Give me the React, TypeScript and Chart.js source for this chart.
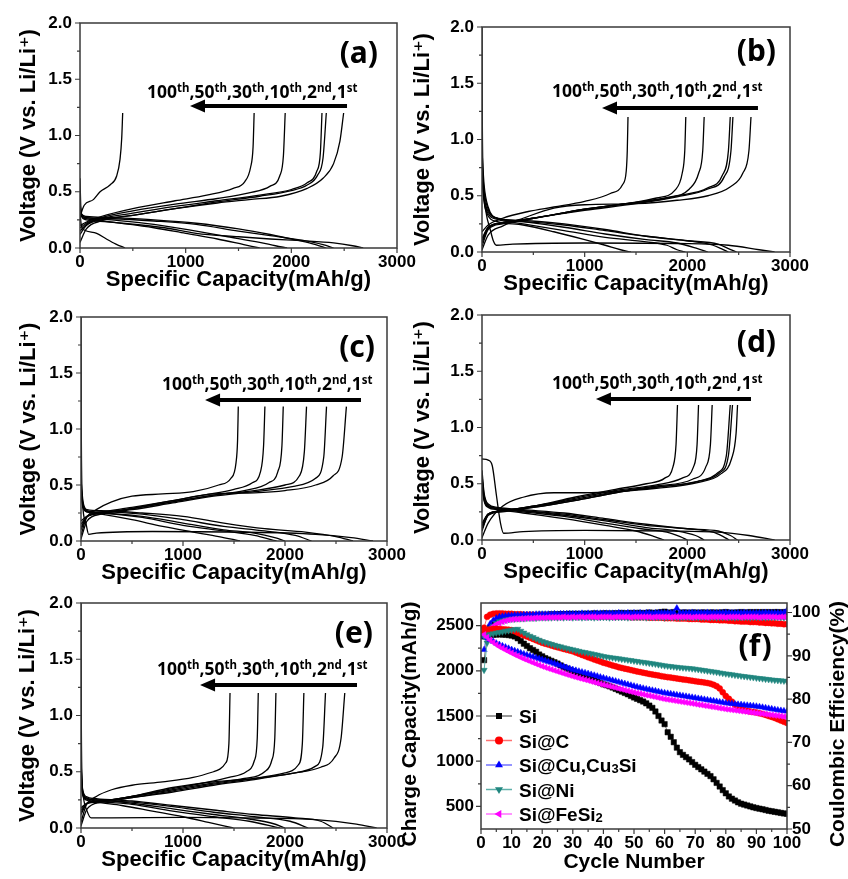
import React, { useEffect, useRef } from "react";
import { Chart, registerables } from "chart.js";
Chart.register(...registerables);

const AXIS_FONT = '"Liberation Sans", Arial, "DejaVu Sans", sans-serif';
const NOTE_FONT = '"Noto Sans", "Open Sans", "DejaVu Sans", sans-serif';
const FRAME = "#3a3a3a";

type Curve = [number, number][];

// ---------- tick values ----------
const VOLT_TICKS = [0, 0.5, 1.0, 1.5, 2.0];
const SPEC_TICKS = [0, 1000, 2000, 3000];
const CYCLE_TICKS = [0, 10, 20, 30, 40, 50, 60, 70, 80, 90, 100];
const CAP_TICKS = [500, 1000, 1500, 2000, 2500];
const CE_TICKS = [50, 60, 70, 80, 90, 100];
const NOTE_PARTS: [string, string][] = [["100", "th"], [",50", "th"], [",30", "th"], [",10", "th"], [",2", "nd"], [",1", "st"]];

// ---------- panel (a) Si ----------
const A_CHARGE: Curve[] = [
  [[0, 0.05], [60, 0.17], [200, 0.24], [500, 0.29], [900, 0.35], [1300, 0.4], [1600, 0.43], [1900, 0.46], [2150, 0.53], [2300, 0.62], [2400, 0.75], [2460, 0.95], [2495, 1.2]],
  [[0, 0.12], [60, 0.2], [200, 0.25], [500, 0.29], [900, 0.35], [1300, 0.41], [1700, 0.46], [2000, 0.51], [2150, 0.56], [2250, 0.65], [2300, 0.8], [2331, 1.2]],
  [[0, 0.15], [60, 0.21], [200, 0.26], [500, 0.31], [900, 0.37], [1300, 0.42], [1700, 0.47], [2000, 0.52], [2150, 0.58], [2240, 0.68], [2275, 0.85], [2290, 1.2]],
  [[0, 0.18], [60, 0.22], [200, 0.27], [500, 0.33], [900, 0.39], [1300, 0.44], [1600, 0.49], [1800, 0.55], [1890, 0.64], [1925, 0.82], [1942, 1.2]],
  [[0, 0.2], [60, 0.23], [200, 0.28], [500, 0.35], [900, 0.42], [1200, 0.47], [1450, 0.53], [1560, 0.59], [1615, 0.72], [1638, 0.9], [1648, 1.2]],
  [[0, 0.28], [40, 0.38], [126, 0.43], [190, 0.5], [284, 0.56], [347, 0.64], [379, 0.79], [395, 0.98], [404, 1.2]],
];
const A_DISCHARGE: Curve[] = [
  [[0, 0.62], [8, 0.36], [30, 0.26], [150, 0.24], [400, 0.22], [800, 0.18], [1100, 0.13], [1500, 0.1], [1800, 0.08], [2100, 0.065], [2400, 0.045], [2580, 0.02], [2680, 0]],
  [[0, 0.4], [15, 0.3], [60, 0.27], [300, 0.26], [700, 0.24], [1100, 0.21], [1500, 0.15], [1800, 0.11], [2100, 0.07], [2300, 0.03], [2400, 0]],
  [[0, 0.38], [15, 0.3], [60, 0.28], [300, 0.27], [700, 0.25], [1100, 0.22], [1500, 0.17], [1800, 0.12], [2050, 0.07], [2230, 0.03], [2330, 0]],
  [[0, 0.36], [15, 0.29], [60, 0.27], [300, 0.25], [700, 0.21], [1100, 0.15], [1400, 0.1], [1700, 0.05], [1850, 0.02], [1960, 0]],
  [[0, 0.35], [15, 0.28], [60, 0.26], [300, 0.23], [700, 0.18], [1000, 0.13], [1300, 0.08], [1550, 0.03], [1700, 0]],
  [[0, 0.33], [12, 0.2], [40, 0.16], [158, 0.13], [250, 0.08], [340, 0.035], [426, 0]],
];

// ---------- panel (b) ----------
const B_CHARGE: Curve[] = [
  [[0, 0.02], [60, 0.15], [200, 0.23], [400, 0.3], [700, 0.39], [1000, 0.42], [1500, 0.43], [1900, 0.46], [2200, 0.5], [2420, 0.58], [2540, 0.7], [2600, 0.9], [2620, 1.2]],
  [[0, 0.05], [60, 0.2], [200, 0.25], [500, 0.3], [1000, 0.37], [1500, 0.43], [1900, 0.49], [2200, 0.56], [2360, 0.67], [2425, 0.9], [2444, 1.2]],
  [[0, 0.08], [60, 0.21], [200, 0.26], [500, 0.3], [1000, 0.38], [1500, 0.44], [1900, 0.5], [2200, 0.57], [2340, 0.68], [2400, 0.9], [2418, 1.2]],
  [[0, 0.1], [60, 0.22], [200, 0.26], [500, 0.3], [1000, 0.38], [1400, 0.43], [1800, 0.48], [2020, 0.56], [2110, 0.7], [2150, 0.9], [2164, 1.2]],
  [[0, 0.12], [60, 0.22], [200, 0.26], [500, 0.3], [1000, 0.38], [1400, 0.43], [1700, 0.48], [1880, 0.55], [1950, 0.7], [1975, 0.9], [1985, 1.2]],
  [[0, 0.18], [60, 0.24], [200, 0.3], [450, 0.36], [700, 0.4], [1000, 0.45], [1250, 0.52], [1370, 0.6], [1405, 0.72], [1415, 0.9], [1422, 1.2]],
];
const B_DISCHARGE: Curve[] = [
  [[0, 2.0], [3, 1.2], [10, 0.7], [40, 0.35], [80, 0.2], [110, 0.1], [140, 0.06], [300, 0.07], [1000, 0.08], [2000, 0.075], [2400, 0.06], [2700, 0.02], [2850, 0]],
  [[0, 0.9], [20, 0.6], [60, 0.4], [150, 0.3], [400, 0.27], [800, 0.24], [1200, 0.19], [1600, 0.14], [2000, 0.1], [2300, 0.07], [2400, 0.03], [2480, 0]],
  [[0, 0.8], [20, 0.55], [60, 0.38], [150, 0.3], [400, 0.28], [800, 0.25], [1200, 0.2], [1600, 0.14], [2000, 0.1], [2250, 0.06], [2330, 0.03], [2400, 0]],
  [[0, 0.75], [20, 0.5], [60, 0.36], [150, 0.3], [400, 0.27], [800, 0.22], [1200, 0.16], [1600, 0.11], [1900, 0.08], [2100, 0.03], [2200, 0]],
  [[0, 0.7], [20, 0.48], [60, 0.34], [150, 0.29], [400, 0.25], [800, 0.19], [1200, 0.13], [1600, 0.09], [1800, 0.06], [1900, 0.02], [1980, 0]],
  [[0, 0.65], [20, 0.45], [60, 0.32], [150, 0.27], [400, 0.24], [700, 0.18], [1000, 0.11], [1200, 0.06], [1350, 0.02], [1450, 0]],
];

// ---------- panel (c) ----------
const C_CHARGE: Curve[] = [
  [[0, 0.02], [60, 0.18], [200, 0.24], [500, 0.29], [900, 0.36], [1300, 0.42], [1700, 0.43], [2000, 0.45], [2300, 0.5], [2470, 0.58], [2560, 0.75], [2602, 1.2]],
  [[0, 0.18], [60, 0.22], [200, 0.25], [500, 0.28], [900, 0.34], [1300, 0.4], [1700, 0.44], [2100, 0.49], [2300, 0.56], [2380, 0.75], [2407, 1.2]],
  [[0, 0.15], [60, 0.22], [200, 0.25], [500, 0.29], [900, 0.35], [1300, 0.41], [1700, 0.45], [2000, 0.5], [2140, 0.58], [2190, 0.8], [2211, 1.2]],
  [[0, 0.12], [60, 0.22], [200, 0.25], [500, 0.29], [900, 0.35], [1300, 0.41], [1600, 0.45], [1840, 0.52], [1930, 0.62], [1970, 0.85], [1983, 1.2]],
  [[0, 0.1], [60, 0.22], [200, 0.26], [500, 0.3], [900, 0.36], [1200, 0.41], [1500, 0.46], [1680, 0.52], [1760, 0.62], [1790, 0.85], [1803, 1.2]],
  [[0, 0.05], [50, 0.2], [150, 0.28], [300, 0.35], [500, 0.4], [800, 0.42], [1100, 0.44], [1350, 0.5], [1470, 0.56], [1520, 0.7], [1535, 0.9], [1542, 1.2]],
];
const C_DISCHARGE: Curve[] = [
  [[0, 2.0], [3, 1.0], [8, 0.5], [20, 0.28], [50, 0.15], [75, 0.06], [150, 0.07], [700, 0.085], [1500, 0.08], [2300, 0.06], [2650, 0.03], [2863, 0]],
  [[0, 0.55], [20, 0.35], [60, 0.28], [200, 0.27], [600, 0.25], [1000, 0.22], [1400, 0.16], [1800, 0.11], [2200, 0.08], [2500, 0.04], [2667, 0]],
  [[0, 0.5], [20, 0.33], [60, 0.27], [200, 0.26], [600, 0.24], [1000, 0.19], [1400, 0.13], [1800, 0.09], [2100, 0.05], [2260, 0]],
  [[0, 0.48], [20, 0.32], [60, 0.27], [200, 0.25], [600, 0.22], [1000, 0.16], [1400, 0.1], [1700, 0.07], [1900, 0.03], [2000, 0]],
  [[0, 0.46], [20, 0.31], [60, 0.26], [200, 0.25], [600, 0.21], [1000, 0.14], [1400, 0.09], [1700, 0.05], [1917, 0]],
  [[0, 0.44], [20, 0.3], [60, 0.26], [200, 0.24], [500, 0.19], [800, 0.13], [1100, 0.08], [1350, 0.04], [1559, 0]],
];

// ---------- panel (d) ----------
const D_CHARGE: Curve[] = [
  [[0, 0.02], [60, 0.15], [200, 0.3], [400, 0.38], [700, 0.42], [1000, 0.42], [1300, 0.43], [1700, 0.46], [2100, 0.51], [2330, 0.59], [2430, 0.72], [2475, 0.95], [2489, 1.2]],
  [[0, 0.08], [60, 0.22], [200, 0.25], [500, 0.29], [900, 0.35], [1300, 0.42], [1700, 0.47], [2100, 0.52], [2320, 0.6], [2400, 0.75], [2440, 1.2]],
  [[0, 0.1], [60, 0.22], [200, 0.26], [500, 0.29], [900, 0.35], [1300, 0.42], [1700, 0.47], [2100, 0.52], [2300, 0.6], [2380, 0.75], [2418, 1.2]],
  [[0, 0.12], [60, 0.23], [200, 0.26], [500, 0.3], [900, 0.36], [1300, 0.43], [1700, 0.48], [2050, 0.54], [2180, 0.65], [2225, 0.85], [2242, 1.2]],
  [[0, 0.13], [60, 0.23], [200, 0.26], [500, 0.3], [900, 0.37], [1300, 0.44], [1700, 0.49], [1950, 0.55], [2060, 0.65], [2095, 0.85], [2109, 1.2]],
  [[0, 0.15], [60, 0.23], [200, 0.26], [500, 0.3], [900, 0.38], [1300, 0.45], [1600, 0.5], [1780, 0.55], [1860, 0.65], [1890, 0.85], [1904, 1.2]],
];
const D_DISCHARGE: Curve[] = [
  [[0, 0.72], [60, 0.71], [100, 0.66], [140, 0.4], [180, 0.15], [210, 0.06], [400, 0.075], [1000, 0.085], [1800, 0.08], [2300, 0.07], [2600, 0.04], [2850, 0]],
  [[0, 0.62], [20, 0.42], [60, 0.32], [150, 0.29], [400, 0.27], [800, 0.24], [1200, 0.19], [1600, 0.14], [2000, 0.1], [2300, 0.08], [2420, 0.04], [2489, 0]],
  [[0, 0.58], [20, 0.4], [60, 0.31], [150, 0.28], [400, 0.26], [800, 0.23], [1200, 0.18], [1600, 0.13], [2000, 0.1], [2250, 0.07], [2350, 0.03], [2408, 0]],
  [[0, 0.55], [20, 0.38], [60, 0.3], [150, 0.28], [400, 0.26], [800, 0.22], [1200, 0.17], [1600, 0.11], [1900, 0.08], [2080, 0.04], [2164, 0]],
  [[0, 0.52], [20, 0.36], [60, 0.3], [150, 0.28], [400, 0.25], [800, 0.21], [1200, 0.15], [1550, 0.1], [1800, 0.07], [1930, 0.03], [2001, 0]],
  [[0, 0.5], [20, 0.35], [60, 0.29], [150, 0.27], [400, 0.24], [800, 0.19], [1200, 0.13], [1500, 0.08], [1680, 0.03], [1773, 0]],
];

// ---------- panel (e) ----------
const E_CHARGE: Curve[] = [
  [[0, 0.02], [60, 0.17], [200, 0.23], [500, 0.28], [900, 0.36], [1300, 0.41], [1700, 0.44], [2100, 0.49], [2350, 0.54], [2480, 0.62], [2550, 0.8], [2586, 1.2]],
  [[0, 0.18], [60, 0.22], [200, 0.23], [500, 0.27], [900, 0.32], [1300, 0.38], [1700, 0.43], [2100, 0.49], [2300, 0.55], [2370, 0.72], [2397, 1.2]],
  [[0, 0.16], [60, 0.22], [200, 0.24], [500, 0.27], [900, 0.33], [1300, 0.39], [1700, 0.44], [2000, 0.49], [2130, 0.56], [2170, 0.75], [2185, 1.2]],
  [[0, 0.14], [60, 0.22], [200, 0.24], [500, 0.28], [900, 0.34], [1300, 0.4], [1600, 0.44], [1800, 0.5], [1870, 0.6], [1900, 0.8], [1911, 1.2]],
  [[0, 0.12], [60, 0.22], [200, 0.24], [500, 0.28], [900, 0.35], [1200, 0.4], [1450, 0.45], [1620, 0.5], [1700, 0.6], [1728, 0.8], [1738, 1.2]],
  [[0, 0.05], [50, 0.2], [150, 0.28], [300, 0.34], [500, 0.38], [800, 0.41], [1100, 0.45], [1300, 0.5], [1420, 0.58], [1450, 0.75], [1461, 1.2]],
];
const E_DISCHARGE: Curve[] = [
  [[0, 2.0], [3, 1.0], [8, 0.5], [20, 0.3], [60, 0.15], [100, 0.09], [300, 0.09], [1000, 0.095], [1600, 0.09], [2300, 0.075], [2700, 0.035], [2898, 0]],
  [[0, 0.6], [15, 0.35], [50, 0.28], [150, 0.26], [500, 0.24], [900, 0.2], [1300, 0.16], [1700, 0.12], [2100, 0.09], [2350, 0.06], [2472, 0]],
  [[0, 0.55], [15, 0.33], [50, 0.27], [150, 0.25], [500, 0.23], [900, 0.19], [1300, 0.14], [1700, 0.1], [2050, 0.06], [2227, 0]],
  [[0, 0.5], [15, 0.32], [50, 0.26], [150, 0.25], [500, 0.22], [900, 0.17], [1300, 0.12], [1650, 0.08], [1880, 0.04], [1999, 0]],
  [[0, 0.48], [15, 0.31], [50, 0.26], [150, 0.24], [500, 0.21], [900, 0.15], [1300, 0.1], [1650, 0.06], [1950, 0]],
  [[0, 0.45], [15, 0.3], [50, 0.25], [150, 0.23], [400, 0.2], [700, 0.15], [1000, 0.1], [1250, 0.05], [1493, 0]],
];

// ---------- panel (f) cycling ----------
const SERIES = ["Si", "Si@C", "Si@Cu,Cu₃Si", "Si@Ni", "Si@FeSi₂"];
const CYCLES = Array.from({ length: 100 }, (_, i) => i + 1);

const CAP_SI = [
  2380, 2390, 2395, 2400, 2400, 2405, 2400, 2400, 2395, 2390,
  2380, 2360, 2330, 2300, 2275, 2250, 2230, 2210, 2180, 2160,
  2140, 2125, 2110, 2095, 2080, 2060, 2040, 2025, 2010, 1995,
  1980, 1965, 1950, 1940, 1925, 1910, 1895, 1880, 1865, 1850,
  1840, 1828, 1815, 1800, 1785, 1770, 1755, 1740, 1722, 1705,
  1690, 1675, 1660, 1640, 1615, 1590, 1550, 1500, 1450, 1410,
  1320, 1270, 1210, 1150, 1100, 1070, 1045, 1020, 990, 960,
  935, 910, 885, 860, 835, 800, 760, 720, 680, 645,
  610, 585, 565, 545, 530, 520, 510, 500, 490, 482,
  475, 468, 460, 452, 446, 440, 434, 428, 422, 418,
];
const CAP_C = [
  2430, 2450, 2458, 2462, 2465, 2463, 2460, 2458, 2455, 2450,
  2438, 2422, 2408, 2394, 2380, 2366, 2352, 2338, 2324, 2310,
  2300, 2290, 2280, 2270, 2260, 2251, 2242, 2233, 2224, 2215,
  2202, 2189, 2176, 2163, 2150, 2138, 2126, 2114, 2102, 2090,
  2080, 2070, 2060, 2050, 2040, 2032, 2024, 2016, 2008, 2000,
  1993, 1986, 1979, 1972, 1965, 1959, 1953, 1947, 1941, 1935,
  1930, 1925, 1920, 1915, 1910, 1905, 1900, 1895, 1890, 1885,
  1880, 1875, 1870, 1865, 1858, 1845, 1830, 1805, 1762, 1720,
  1690, 1658, 1625, 1600, 1582, 1566, 1558, 1550, 1545, 1540,
  1530, 1522, 1512, 1500, 1490, 1478, 1464, 1450, 1436, 1422,
];
const CAP_CU = [
  2380, 2365, 2345, 2325, 2305, 2290, 2275, 2262, 2248, 2234,
  2222, 2210, 2198, 2186, 2175, 2164, 2154, 2144, 2134, 2124,
  2113, 2102, 2091, 2080, 2069, 2058, 2047, 2036, 2025, 2013,
  2004, 1995, 1986, 1977, 1968, 1959, 1950, 1940, 1930, 1921,
  1912, 1903, 1894, 1885, 1876, 1867, 1858, 1849, 1840, 1830,
  1822, 1814, 1806, 1798, 1791, 1784, 1777, 1770, 1762, 1755,
  1750, 1745, 1739, 1733, 1728, 1722, 1717, 1711, 1706, 1700,
  1694, 1689, 1683, 1678, 1672, 1667, 1661, 1655, 1650, 1644,
  1640, 1636, 1632, 1628, 1625, 1621, 1618, 1614, 1611, 1607,
  1602, 1596, 1590, 1584, 1578, 1572, 1566, 1561, 1556, 1552,
];
const CAP_NI = [
  2380, 2395, 2405, 2412, 2420, 2425, 2432, 2440, 2445, 2452,
  2458, 2462, 2440, 2420, 2402, 2385, 2370, 2355, 2340, 2326,
  2315, 2305, 2295, 2285, 2276, 2267, 2258, 2250, 2242, 2234,
  2226, 2218, 2211, 2204, 2197, 2190, 2183, 2176, 2168, 2160,
  2155, 2150, 2145, 2140, 2135, 2130, 2125, 2120, 2115, 2110,
  2105, 2100, 2095, 2090, 2085, 2080, 2075, 2069, 2063, 2057,
  2053, 2049, 2045, 2041, 2037, 2034, 2031, 2028, 2024, 2020,
  2015, 2010, 2005, 2000, 1995, 1990, 1985, 1979, 1973, 1968,
  1963, 1958, 1953, 1948, 1943, 1939, 1935, 1930, 1926, 1921,
  1917, 1913, 1909, 1905, 1901, 1897, 1894, 1891, 1888, 1884,
];
const CAP_FE = [
  2400, 2370, 2340, 2315, 2290, 2268, 2250, 2232, 2214, 2197,
  2180, 2164, 2148, 2133, 2119, 2105, 2091, 2077, 2063, 2050,
  2038, 2026, 2015, 2004, 1993, 1982, 1971, 1960, 1950, 1939,
  1930, 1920, 1911, 1902, 1893, 1883, 1874, 1865, 1856, 1847,
  1838, 1830, 1821, 1813, 1804, 1796, 1787, 1779, 1770, 1762,
  1754, 1747, 1740, 1732, 1725, 1718, 1711, 1703, 1696, 1688,
  1683, 1677, 1672, 1666, 1661, 1655, 1650, 1644, 1639, 1633,
  1627, 1622, 1616, 1611, 1605, 1600, 1594, 1588, 1583, 1577,
  1573, 1568, 1564, 1559, 1555, 1551, 1546, 1542, 1537, 1533,
  1529, 1525, 1520, 1516, 1512, 1507, 1503, 1499, 1494, 1490,
];

const CE_SI = [
  89.0, 94.6, 96.5, 97.4, 97.9, 98.3, 98.6, 98.8, 98.9, 99.0,
  99.1, 99.2, 99.2, 99.3, 99.3, 99.4, 99.4, 99.4, 99.5, 99.5,
  99.5, 99.5, 99.6, 99.5, 99.6, 99.6, 99.6, 99.6, 99.7, 99.6,
  99.7, 99.6, 99.7, 99.7, 99.7, 99.7, 99.8, 99.7, 99.7, 99.8,
  99.8, 99.7, 99.8, 99.8, 99.8, 99.9, 99.8, 99.8, 99.9, 99.8,
  99.9, 99.9, 99.8, 99.9, 100.0, 99.9, 99.9, 100.0, 100.1, 100.2,
  100.0, 99.9, 100.1, 100.0, 99.9, 100.0, 100.0, 99.9, 100.0, 100.0,
  99.9, 100.0, 100.0, 99.9, 100.0, 100.0, 99.9, 100.0, 100.0, 100.1,
  100.0, 99.9, 100.0, 100.0, 100.1, 100.0, 100.0, 100.1, 100.0, 100.1,
  100.0, 100.1, 100.0, 100.1, 100.0, 100.1, 100.1, 100.0, 100.1, 100.1,
];
const CE_C = [
  96.5, 99.0, 99.5, 99.7, 99.8, 99.8, 99.8, 99.7, 99.7, 99.7,
  99.6, 99.6, 99.6, 99.5, 99.5, 99.5, 99.5, 99.4, 99.4, 99.4,
  99.4, 99.4, 99.3, 99.3, 99.3, 99.3, 99.3, 99.3, 99.2, 99.2,
  99.2, 99.2, 99.2, 99.2, 99.2, 99.1, 99.1, 99.1, 99.1, 99.1,
  99.1, 99.1, 99.0, 99.0, 99.0, 99.0, 99.0, 99.0, 98.9, 98.9,
  98.9, 98.9, 98.9, 98.9, 98.8, 98.8, 98.8, 98.8, 98.8, 98.7,
  98.7, 98.7, 98.7, 98.6, 98.6, 98.6, 98.6, 98.5, 98.5, 98.5,
  98.5, 98.4, 98.4, 98.4, 98.3, 98.3, 98.3, 98.2, 98.2, 98.2,
  98.1, 98.1, 98.0, 98.0, 97.9, 97.9, 97.9, 97.8, 97.8, 97.8,
  97.7, 97.7, 97.6, 97.6, 97.5, 97.5, 97.4, 97.4, 97.3, 97.3,
];
const CE_CU = [
  91.4, 95.8, 97.4, 98.2, 98.7, 99.0, 99.1, 99.2, 99.3, 99.3,
  99.4, 99.4, 99.4, 99.5, 99.5, 99.5, 99.5, 99.6, 99.6, 99.6,
  99.6, 99.6, 99.6, 99.7, 99.6, 99.7, 99.7, 99.7, 99.7, 99.7,
  99.7, 99.7, 99.8, 99.7, 99.8, 99.7, 99.8, 99.8, 99.8, 99.8,
  99.8, 99.8, 99.8, 99.8, 99.9, 99.8, 99.8, 99.9, 99.8, 99.9,
  99.8, 99.9, 99.8, 99.9, 99.9, 99.8, 99.9, 99.9, 99.9, 99.9,
  99.9, 99.9, 100.0, 101.0, 99.9, 99.9, 99.9, 99.9, 100.0, 99.9,
  99.9, 99.9, 99.9, 100.0, 99.9, 99.9, 99.9, 99.9, 99.9, 100.0,
  99.9, 99.9, 99.9, 99.9, 99.9, 100.0, 99.9, 99.9, 99.9, 99.9,
  99.9, 99.9, 100.0, 99.9, 99.9, 99.9, 99.9, 99.9, 100.0, 100.5,
];
const CE_NI = [
  86.7, 93.0, 95.5, 96.8, 97.5, 97.9, 98.1, 98.3, 98.4, 98.5,
  98.5, 98.6, 98.6, 98.6, 98.7, 98.7, 98.7, 98.7, 98.8, 98.8,
  98.8, 98.8, 98.8, 98.9, 98.8, 98.9, 98.8, 98.9, 98.9, 98.8,
  98.9, 98.9, 98.8, 98.9, 98.9, 98.9, 98.8, 98.9, 98.9, 98.9,
  98.9, 98.8, 98.9, 98.9, 98.9, 98.9, 98.9, 98.8, 98.9, 98.9,
  98.9, 98.9, 98.9, 98.8, 98.9, 98.9, 98.9, 98.9, 98.9, 98.8,
  98.9, 98.9, 98.9, 98.9, 98.8, 98.9, 98.9, 98.9, 98.9, 98.9,
  98.8, 98.9, 98.9, 98.9, 98.9, 98.9, 98.8, 98.9, 98.9, 98.9,
  98.9, 98.9, 98.8, 98.9, 98.9, 98.9, 98.9, 98.8, 98.9, 98.9,
  98.9, 98.9, 98.8, 98.9, 98.9, 98.9, 98.9, 98.9, 98.8, 98.9,
];
const CE_FE = [
  94.8, 95.4, 96.2, 96.8, 97.3, 97.6, 97.9, 98.1, 98.3, 98.4,
  98.5, 98.5, 98.6, 98.6, 98.7, 98.7, 98.7, 98.8, 98.8, 98.8,
  98.8, 98.9, 98.9, 98.9, 98.9, 98.9, 99.0, 98.9, 98.9, 99.0,
  98.9, 99.0, 99.0, 98.9, 99.0, 99.0, 99.0, 98.9, 99.0, 99.0,
  99.0, 99.0, 98.9, 99.0, 99.0, 99.0, 99.0, 99.0, 98.9, 99.0,
  99.0, 99.0, 99.0, 99.0, 99.0, 98.9, 99.0, 99.0, 99.0, 99.0,
  99.0, 98.9, 99.0, 99.0, 99.0, 99.0, 99.0, 99.0, 98.9, 99.0,
  99.0, 99.0, 99.0, 98.9, 99.0, 99.0, 99.0, 99.0, 99.0, 98.9,
  99.0, 99.0, 99.0, 99.0, 98.9, 99.0, 99.0, 99.0, 99.0, 99.0,
  98.9, 99.0, 99.0, 99.0, 99.0, 99.0, 98.9, 99.0, 99.0, 99.0,
];

const CAPS = [CAP_SI, CAP_C, CAP_CU, CAP_NI, CAP_FE];
const CES = [CE_SI, CE_C, CE_CU, CE_NI, CE_FE];
const COLORS = ["#000000", "#ff0000", "#0000ff", "#20867f", "#ff00ff"];
const LINE_COLORS = ["#777777", "#ff7070", "#7070ff", "#5fb0aa", "#ff70ff"];
const MARKERS = ["square", "circle", "up", "down", "left"];

// ---------- panel layout ----------
const PANELS = [
  { key: "a", charge: A_CHARGE, discharge: A_DISCHARGE, L: 80, T: 23, R: 397, B: 248, yPad: 15.8, tag: "(a)", tagAt: [2820, 1.72], note: { x: 634, y: 1.333, from: 2527, to: 1041, ay: 1.262 } },
  { key: "b", charge: B_CHARGE, discharge: B_DISCHARGE, L: 482, T: 27, R: 790, B: 252, yPad: 7.8, tag: "(b)", tagAt: [2864, 1.773], note: { x: 682, y: 1.378, from: 2688, to: 1169, ay: 1.28 } },
  { key: "c", charge: C_CHARGE, discharge: C_DISCHARGE, L: 81, T: 317, R: 387, B: 541, yPad: 14.8, tag: "(c)", tagAt: [2882, 1.72], note: { x: 794, y: 1.348, from: 2745, to: 1216, ay: 1.259 } },
  { key: "d", charge: D_CHARGE, discharge: D_DISCHARGE, L: 482, T: 315, R: 790, B: 540, yPad: 7.8, tag: "(d)", tagAt: [2864, 1.75], note: { x: 682, y: 1.342, from: 2620, to: 1110, ay: 1.253 } },
  { key: "e", charge: E_CHARGE, discharge: E_DISCHARGE, L: 81, T: 603, R: 387, B: 828, yPad: 13.3, tag: "(e)", tagAt: [2863, 1.716], note: { x: 745, y: 1.36, from: 2706, to: 1167, ay: 1.271 } },
];

function minorsOf(t: number[]) {
  const m: number[] = [];
  for (let i = 0; i < t.length - 1; i++) m.push((t[i] + t[i + 1]) / 2);
  return m;
}

function tickMarks(ctx: any, scale: any, majors: number[], minors: number[], edge: number, dir: number, horizontal: boolean) {
  ctx.beginPath();
  const put = (v: number, len: number) => {
    const p = scale.getPixelForValue(v);
    if (horizontal) { ctx.moveTo(p, edge); ctx.lineTo(p, edge + dir * len); }
    else { ctx.moveTo(edge, p); ctx.lineTo(edge + dir * len, p); }
  };
  majors.forEach((v) => put(v, 5));
  minors.forEach((v) => put(v, 3));
  ctx.stroke();
}

function drawFrame(ctx: any, a: any) {
  ctx.strokeStyle = FRAME;
  ctx.lineWidth = 1.5;
  ctx.strokeRect(a.left, a.top, a.right - a.left, a.bottom - a.top);
}

const tickFont = { family: AXIS_FONT, size: 17, weight: "bold" as const };
const titleFont = { family: AXIS_FONT, size: 22, weight: "bold" as const, lineHeight: 1.2 };

function VoltagePanel({ p }: { p: any }) {
  const ref = useRef<HTMLCanvasElement>(null);
  const lw = 80, rw = 30, tp = 23, bh = 50;
  const w = p.R - p.L + lw + rw;
  const h = p.B - p.T + tp + bh;
  useEffect(() => {
    const curves: Curve[] = [...p.charge, ...p.discharge];
    const deco = {
      id: "voltDeco",
      afterDraw(chart: any) {
        const { ctx, chartArea: a, scales } = chart;
        const xs = scales.x, ys = scales.y;
        ctx.save();
        drawFrame(ctx, a);
        ctx.lineWidth = 1.2;
        tickMarks(ctx, xs, SPEC_TICKS, minorsOf(SPEC_TICKS), a.bottom, 1, true);
        tickMarks(ctx, ys, VOLT_TICKS, minorsOf(VOLT_TICKS), a.left, -1, false);
        // cycle-order note
        ctx.fillStyle = "#000";
        ctx.strokeStyle = "#000";
        ctx.textAlign = "left";
        ctx.textBaseline = "alphabetic";
        let x = xs.getPixelForValue(p.note.x);
        const y = ys.getPixelForValue(p.note.y);
        for (const [main, sup] of NOTE_PARTS) {
          ctx.font = `bold 17.5px ${NOTE_FONT}`;
          ctx.fillText(main, x, y);
          x += ctx.measureText(main).width;
          ctx.font = `bold 11.5px ${NOTE_FONT}`;
          ctx.fillText(sup, x, y - 6);
          x += ctx.measureText(sup).width;
        }
        // arrow
        const x1 = xs.getPixelForValue(p.note.from);
        const x2 = xs.getPixelForValue(p.note.to);
        const ay = ys.getPixelForValue(p.note.ay);
        ctx.lineWidth = 4;
        ctx.beginPath();
        ctx.moveTo(x1, ay);
        ctx.lineTo(x2 + 10, ay);
        ctx.stroke();
        ctx.beginPath();
        ctx.moveTo(x2, ay);
        ctx.lineTo(x2 + 15, ay - 6.5);
        ctx.lineTo(x2 + 15, ay + 6.5);
        ctx.closePath();
        ctx.fill();
        // panel tag
        ctx.font = `bold 30px ${NOTE_FONT}`;
        ctx.textAlign = "right";
        ctx.textBaseline = "middle";
        ctx.fillText(p.tag, xs.getPixelForValue(p.tagAt[0]), ys.getPixelForValue(p.tagAt[1]));
        ctx.restore();
      },
    };
    const chart = new Chart(ref.current as HTMLCanvasElement, {
      type: "line",
      data: {
        datasets: curves.map((c) => ({
          data: c.map(([x, y]) => ({ x, y })),
          borderColor: "#000",
          borderWidth: 1.3,
          pointRadius: 0,
          fill: false,
          cubicInterpolationMode: "monotone" as const,
          borderJoinStyle: "round" as const,
        })),
      },
      options: {
        animation: false,
        responsive: false,
        events: [],
        layout: { padding: { left: 0, top: tp, right: rw, bottom: 0 } },
        plugins: { legend: { display: false }, tooltip: { enabled: false } },
        scales: {
          x: {
            type: "linear",
            min: 0,
            max: 3000,
            afterBuildTicks: (s: any) => { s.ticks = SPEC_TICKS.map((v) => ({ value: v })); },
            afterFit: (s: any) => { s.height = bh; s.paddingLeft = 0; s.paddingRight = 0; },
            grid: { display: false, drawTicks: false },
            border: { display: false },
            ticks: { font: tickFont, color: "#000", padding: 4, maxRotation: 0, autoSkip: false, callback: (v: any) => String(v) },
            title: { display: true, text: "Specific Capacity(mAh/g)", font: titleFont, color: "#000", padding: { top: 0, bottom: 4.8 } },
          },
          y: {
            type: "linear",
            min: 0,
            max: 2,
            afterBuildTicks: (s: any) => { s.ticks = VOLT_TICKS.map((v) => ({ value: v })); },
            afterFit: (s: any) => { s.width = lw; },
            grid: { display: false, drawTicks: false },
            border: { display: false },
            ticks: { font: tickFont, color: "#000", padding: 8, autoSkip: false, callback: (v: any) => Number(v).toFixed(1) },
            title: { display: true, text: "Voltage (V vs. Li/Li⁺)", font: titleFont, color: "#000", padding: { top: p.yPad, bottom: 0 } },
          },
        },
      } as any,
      plugins: [deco],
    });
    return () => chart.destroy();
  }, []);
  return <canvas ref={ref} width={w} height={h} style={{ position: "absolute", left: p.L - lw, top: p.T - tp, width: w, height: h }} />;
}

function markerPath(ctx: any, kind: string, x: number, y: number, r: number) {
  ctx.beginPath();
  if (kind === "square") {
    ctx.rect(x - r * 0.75, y - r * 0.75, r * 1.5, r * 1.5);
  } else if (kind === "circle") {
    ctx.arc(x, y, r, 0, Math.PI * 2);
  } else {
    const rot = kind === "up" ? 0 : kind === "down" ? Math.PI : -Math.PI / 2;
    for (let k = 0; k < 3; k++) {
      const ang = -Math.PI / 2 + rot + (k * 2 * Math.PI) / 3;
      const px = x + Math.cos(ang) * r * 1.15;
      const py = y + Math.sin(ang) * r * 1.15;
      if (k === 0) ctx.moveTo(px, py); else ctx.lineTo(px, py);
    }
    ctx.closePath();
  }
}

const SUBS: Record<string, string> = { "₀": "0", "₁": "1", "₂": "2", "₃": "3", "₄": "4", "₅": "5", "₆": "6", "₇": "7", "₈": "8", "₉": "9" };

function drawRich(ctx: any, text: string, x: number, baseline: number) {
  let cx = x;
  for (const ch of Array.from(text)) {
    if (SUBS[ch]) {
      ctx.font = `bold 13px ${AXIS_FONT}`;
      ctx.fillText(SUBS[ch], cx, baseline + 1);
      cx += ctx.measureText(SUBS[ch]).width;
    } else {
      ctx.font = `bold 19px ${AXIS_FONT}`;
      ctx.fillText(ch, cx, baseline);
      cx += ctx.measureText(ch).width;
    }
  }
}

function CyclePanel() {
  const ref = useRef<HTMLCanvasElement>(null);
  const L = 481, T = 603, R = 787, B = 829;
  const lw = 84, rw = 63, tp = 23, bh = 50;
  const w = R - L + lw + rw;
  const h = B - T + tp + bh;
  useEffect(() => {
    const deco = {
      id: "cycleDeco",
      afterDraw(chart: any) {
        const { ctx, chartArea: a, scales } = chart;
        ctx.save();
        drawFrame(ctx, a);
        ctx.lineWidth = 1.2;
        tickMarks(ctx, scales.x, CYCLE_TICKS, minorsOf(CYCLE_TICKS), a.bottom, 1, true);
        tickMarks(ctx, scales.y, CAP_TICKS, minorsOf(CAP_TICKS), a.left, -1, false);
        tickMarks(ctx, scales.y2, CE_TICKS, minorsOf(CE_TICKS), a.right, 1, false);
        // axis titles (both read bottom-to-top)
        ctx.fillStyle = "#000";
        ctx.textAlign = "center";
        ctx.textBaseline = "middle";
        ctx.font = `bold 21px ${AXIS_FONT}`;
        const cy = (a.top + a.bottom) / 2 + 8;
        ctx.save(); ctx.translate(a.left - 71, cy); ctx.rotate(-Math.PI / 2); ctx.fillText("Charge Capacity(mAh/g)", 0, 0); ctx.restore();
        ctx.save(); ctx.translate(a.right + 51, cy); ctx.rotate(-Math.PI / 2); ctx.fillText("Coulombic Efficiency(%)", 0, 0); ctx.restore();
        // tag
        ctx.font = `bold 30px ${NOTE_FONT}`;
        ctx.textAlign = "right";
        ctx.fillText("(f)", scales.x.getPixelForValue(95), scales.y.getPixelForValue(2260));
        // legend
        ctx.textAlign = "left";
        ctx.textBaseline = "alphabetic";
        SERIES.forEach((name, i) => {
          const y = a.top + 113 + i * 24.5;
          ctx.strokeStyle = LINE_COLORS[i];
          ctx.lineWidth = 1.5;
          ctx.beginPath(); ctx.moveTo(a.left + 5, y); ctx.lineTo(a.left + 31, y); ctx.stroke();
          ctx.fillStyle = COLORS[i];
          markerPath(ctx, MARKERS[i], a.left + 18, y, 4);
          ctx.fill();
          ctx.fillStyle = "#000";
          drawRich(ctx, name, a.left + 38, y + 7);
        });
        ctx.restore();
      },
    };
    const styleOf = (i: number) => {
      const m = MARKERS[i];
      return {
        pointStyle: m === "square" ? "rect" : m === "circle" ? "circle" : "triangle",
        pointRotation: m === "down" ? 180 : m === "left" ? -90 : 0,
        pointRadius: m === "square" ? 3.8 : m === "circle" ? 3 : 3.6,
      };
    };
    const datasets: any[] = [];
    SERIES.forEach((name, i) => {
      datasets.push({
        label: name,
        data: CAPS[i].map((v, j) => ({ x: CYCLES[j], y: v })),
        yAxisID: "y",
        borderColor: LINE_COLORS[i],
        backgroundColor: COLORS[i],
        pointBackgroundColor: COLORS[i],
        pointBorderColor: COLORS[i],
        pointBorderWidth: 0.5,
        borderWidth: 1,
        order: 5 - i,
        ...styleOf(i),
      });
    });
    SERIES.forEach((name, i) => {
      datasets.push({
        label: name + " CE",
        data: CES[i].map((v, j) => ({ x: CYCLES[j], y: v })),
        yAxisID: "y2",
        borderColor: LINE_COLORS[i],
        backgroundColor: COLORS[i],
        pointBackgroundColor: COLORS[i],
        pointBorderColor: COLORS[i],
        pointBorderWidth: 0.5,
        borderWidth: 1,
        order: 15 - i,
        ...styleOf(i),
      });
    });
    const chart = new Chart(ref.current as HTMLCanvasElement, {
      type: "line",
      data: { datasets },
      options: {
        animation: false,
        responsive: false,
        events: [],
        layout: { padding: { left: 0, top: tp, right: 0, bottom: 0 } },
        plugins: { legend: { display: false }, tooltip: { enabled: false } },
        scales: {
          x: {
            type: "linear",
            min: 0,
            max: 100,
            afterBuildTicks: (s: any) => { s.ticks = CYCLE_TICKS.map((v) => ({ value: v })); },
            afterFit: (s: any) => { s.height = bh; s.paddingLeft = 0; s.paddingRight = 0; },
            grid: { display: false, drawTicks: false },
            border: { display: false },
            ticks: { font: tickFont, color: "#000", padding: 4, maxRotation: 0, autoSkip: false, callback: (v: any) => String(v) },
            title: { display: true, text: "Cycle Number", font: { ...titleFont, size: 21 }, color: "#000", padding: { top: 0, bottom: 4.4 } },
          },
          y: {
            type: "linear",
            position: "left",
            min: 250,
            max: 2750,
            afterBuildTicks: (s: any) => { s.ticks = CAP_TICKS.map((v) => ({ value: v })); },
            afterFit: (s: any) => { s.width = lw; },
            grid: { display: false, drawTicks: false },
            border: { display: false },
            ticks: { font: tickFont, color: "#000", padding: 7, autoSkip: false, callback: (v: any) => String(v) },
          },
          y2: {
            type: "linear",
            position: "right",
            min: 50,
            max: 102.2,
            afterBuildTicks: (s: any) => { s.ticks = CE_TICKS.map((v) => ({ value: v })); },
            afterFit: (s: any) => { s.width = rw; },
            grid: { display: false, drawTicks: false },
            border: { display: false },
            ticks: { font: tickFont, color: "#000", padding: 5, autoSkip: false, callback: (v: any) => String(v) },
          },
        },
      } as any,
      plugins: [deco],
    });
    return () => chart.destroy();
  }, []);
  return <canvas ref={ref} width={w} height={h} style={{ position: "absolute", left: L - lw, top: T - tp, width: w, height: h }} />;
}

export default function App() {
  return (
    <div style={{ position: "absolute", left: 0, top: 0, width: 848, height: 879, overflow: "hidden", background: "#fff" }}>
      {PANELS.map((p) => (
        <VoltagePanel key={p.key} p={p} />
      ))}
      <CyclePanel />
    </div>
  );
}
